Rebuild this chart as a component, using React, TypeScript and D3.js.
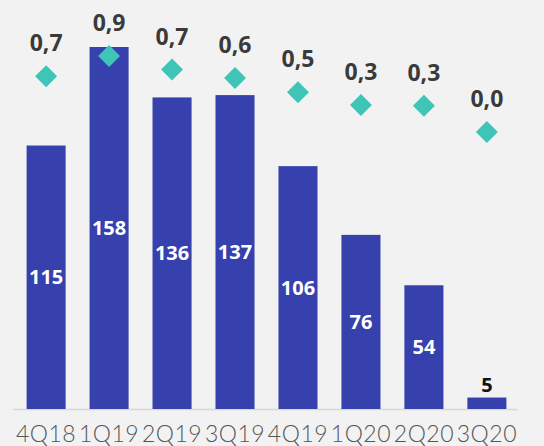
import React from "react";
import * as d3 from "d3";

const categories = ["4Q18", "1Q19", "2Q19", "3Q19", "4Q19", "1Q20", "2Q20", "3Q20"];
const barValues = [115, 158, 136, 137, 106, 76, 54, 5];
const ratioValues = [0.66, 0.9, 0.74, 0.64, 0.47, 0.32, 0.31, 0.0];

const W = 544;
const H = 446;
const BOLD = "'Open Sans', Lato, sans-serif";
const LIGHT = "Lato, 'Open Sans', sans-serif";

export default function App() {
  const x = d3.scaleBand<string>().domain(categories).range([14, 519]).paddingInner(0.38).paddingOuter(0.2);
  const y = d3.scaleLinear().domain([0, 158]).range([409, 47]);
  const yr = d3.scaleLinear().domain([0, 0.9]).range([132, 56]);
  const fmt = (v: number) => d3.format(".1f")(v).replace(".", ",");
  const bw = x.bandwidth();
  const ds = 15.5;

  return (
    <svg width={W} height={H} style={{ position: "absolute", left: 0, top: 0 }}>
      <rect x={0} y={0} width={W} height={H} fill="#f2f2f2" />
      <line x1={13} x2={518} y1={409.5} y2={409.5} stroke="#d8d8d8" strokeWidth={1.5} />
      {categories.map((c, i) => {
        const v = barValues[i];
        const bx = x(c)!;
        const top = y(v);
        const h = y(0) - top;
        const cx = bx + bw / 2;
        const inside = h > 30;
        return (
          <g key={c}>
            <rect x={bx} y={top} width={bw} height={h} fill="#3641ad" />
            <text
              x={cx}
              y={inside ? top + h / 2 : top - 6}
              dy={inside ? "0.36em" : 0}
              textAnchor="middle"
              fontFamily={BOLD}
              fontWeight={700}
              fontSize={20}
              fill={inside ? "#ffffff" : "#111111"}
            >
              {v}
            </text>
            <text
              x={cx}
              y={442}
              textAnchor="middle"
              fontFamily={LIGHT}
              fontWeight={300}
              fontSize={23}
              letterSpacing={0.5}
              fill="#555555"
            >
              {c}
            </text>
          </g>
        );
      })}
      {categories.map((c, i) => {
        const cx = x(c)! + bw / 2;
        const cy = yr(ratioValues[i]);
        return (
          <g key={"r" + c}>
            <rect
              x={-ds / 2}
              y={-ds / 2}
              width={ds}
              height={ds}
              fill="#3fc4b8"
              transform={`translate(${cx},${cy}) rotate(45)`}
            />
            <text
              x={cx}
              y={cy - 25}
              textAnchor="middle"
              fontFamily={BOLD}
              fontWeight={700}
              fontSize={23}
              fill="#3a3a3a"
            >
              {fmt(ratioValues[i])}
            </text>
          </g>
        );
      })}
    </svg>
  );
}
